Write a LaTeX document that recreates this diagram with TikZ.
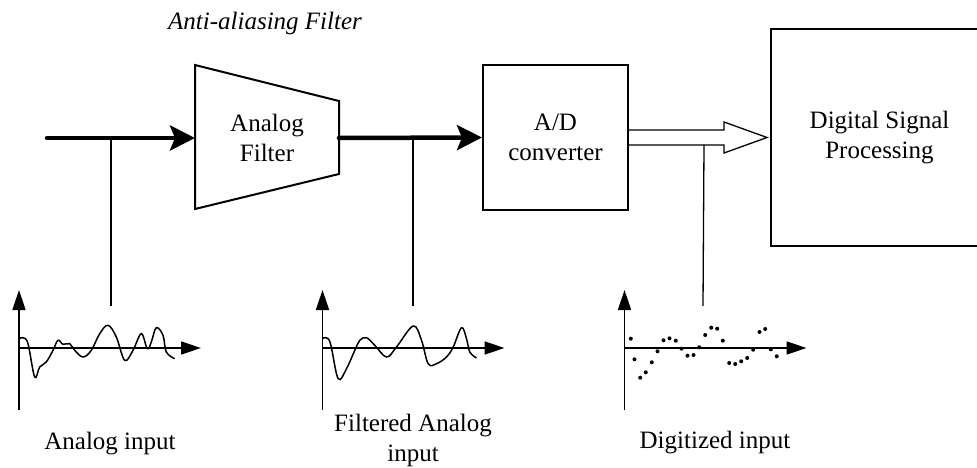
\documentclass[tikz,border=0pt]{standalone}
\usepackage{fontspec}
\setmainfont{Liberation Serif}
\usetikzlibrary{arrows.meta,calc}

\begin{document}
\begin{tikzpicture}[x=1pt,y=-1pt]

	% INPUTS

	\newcommand{\pathy}{138}			% height of the signal path
	\newcommand{\axisy}{348}			% height of the time axes of the three plots
	\newcommand{\tapy}{306}				% where the probe lines stop above the plots
	\newcommand{\axislen}{182}			% length of the time axes

	% page size, the DSP block runs off the right edge
	\useasboundingbox (0,0) rectangle (977,468);
	\clip (0,0) rectangle (977,468);

	% styles
	\tikzstyle{txt}=[align=center,font=\fontsize{25}{30}\selectfont]
	\tikzstyle{block}=[txt,draw,line width=2pt]
	\tikzstyle{signal}=[line width=4.5pt,line cap=round,-{Stealth[length=25pt,width=25pt,inset=5pt]}]
	\tikzstyle{probe}=[line width=1.3pt]
	\tikzstyle{axisline}=[line width=1.5pt,-{Triangle[length=20pt,width=13pt]}]
	\tikzstyle{wave}=[line width=1.5pt]

	% analog filter, drawn as a trapezoid
	\draw[line width=2pt,line join=miter] (195,65) -- (339,101) -- (339,174) -- (195,209) -- cycle;
	\node[txt] (filt) at (267,137.5) {Analog\\Filter};
	\coordinate (filtin) at (195,\pathy);
	\coordinate (filtout) at (339,\pathy);

	\node[txt,font=\fontsize{25}{30}\selectfont\itshape,anchor=base] (title) at (265,30) {Anti-aliasing Filter};

	% converter and processing blocks
	\node[block,minimum width=145pt,minimum height=144pt] (ad) at (555.5,137.5) {A/D\\converter};
	\node[block,minimum width=217pt,minimum height=217pt] (dsp) at (879.5,137.5) {Digital Signal\\Processing};

	% signal path
	\coordinate (in) at (47,\pathy);
	\draw[signal] (in) -- (filtin);
	\draw[signal] (filtout) -- (ad.west);

	% hollow arrow for the digital data
	\draw[line width=1.3pt,line join=miter] ($(ad.east)+(0,-7.5)$) -- ($(dsp.west)+(-46,-7.5)$) -- ($(dsp.west)+(-46,-15.5)$)
		-- ($(dsp.west)+(-3,0)$) -- ($(dsp.west)+(-46,15.5)$) -- ($(dsp.west)+(-46,7.5)$) -- ($(ad.east)+(0,7.5)$);

	% probe lines down to the plots
	\coordinate (tapA) at (111,\pathy);
	\coordinate (tapB) at (413,\pathy);
	\coordinate (tapC) at ($(ad.east)+(75,7.5)$);
	\coordinate (endA) at (111,\tapy);
	\coordinate (endB) at (413,\tapy);
	\coordinate (endC) at (703,\tapy);
	\draw[probe] (tapA) -- (endA);
	\draw[probe] (tapB) -- (endB);
	\draw[probe] (tapC) -- (endC);

	% plot origins and axes
	\coordinate (plotA) at (19,\axisy);
	\coordinate (plotB) at (322.5,\axisy);
	\coordinate (plotC) at (624.5,\axisy);
	\foreach \p in {plotA,plotB,plotC}{
		\draw[axisline] ($(\p)+(0,62)$) -- ($(\p)+(0,-58)$);
		\draw[axisline] (\p) -- ($(\p)+(\axislen,0)$);
	}

	% analog input
	\begin{scope}[shift={(plotA)},yscale=-1]
		\draw[wave] plot[smooth,tension=.6] coordinates {(0.7,9.3) (4,10.3) (9,4.3) (15.7,-29) (20.7,-19) (27.3,-14) (34,-2.3) (39,7.7) (44,3.7) (50.7,4.3) (55.7,-2.3) (64,-9) (72.3,-2.3) (80.7,14.3) (89,22.7) (97.3,11) (105.7,-12.3) (114,-2.3) (122.3,14.3) (128.3,-0.7) (132.3,6) (137.3,20.3) (144,12.7) (147.3,-4) (155.7,-10.7)};
	\end{scope}

	% filtered input
	\begin{scope}[shift={(plotB)},yscale=-1]
		\draw[wave] plot[smooth,tension=.6] coordinates {(0,9.3) (3.3,10.3) (8,4.3) (15.7,-30.7) (24,-20.7) (32.3,-2.3) (37.3,7.7) (44,10.3) (52.3,2.7) (64,-9) (74,1) (90.7,22) (99,7.7) (105.7,-15.7) (114,-15.7) (124,-9) (130.7,1) (139,20.3) (144,9.3) (147.3,-4) (154,-10)};
	\end{scope}

	% samples
	\begin{scope}[shift={(plotC)},yscale=-1]
		\foreach \x/\y in {6.3/9.3,10/-11.3,15.7/-29.7,21.3/-24.3,27.3/-14.3,33/-3.3,39/7.7,45/9.7,51.3/7.3,57/-0.7,63/-7.7,69/-7,74.7/0.7,80.7/13,86.7/20.3,92.7/19.3,98.3/7.3,104.7/-15,110.7/-16,116.7/-13.3,122.7/-10,128.7/-1.7,135/16,140.7/19,146.3/-1.3,152.3/-8.3}
			\fill (\x,\y) circle (2pt);
	\end{scope}

	% plot names
	\node[txt,anchor=base] (nameA) at (110,449) {Analog input};
	\node[txt] (nameB) at (413,440.7) {Filtered Analog\\input};
	\node[txt,anchor=base] (nameC) at (715,448) {Digitized input};

\end{tikzpicture}
\end{document}
